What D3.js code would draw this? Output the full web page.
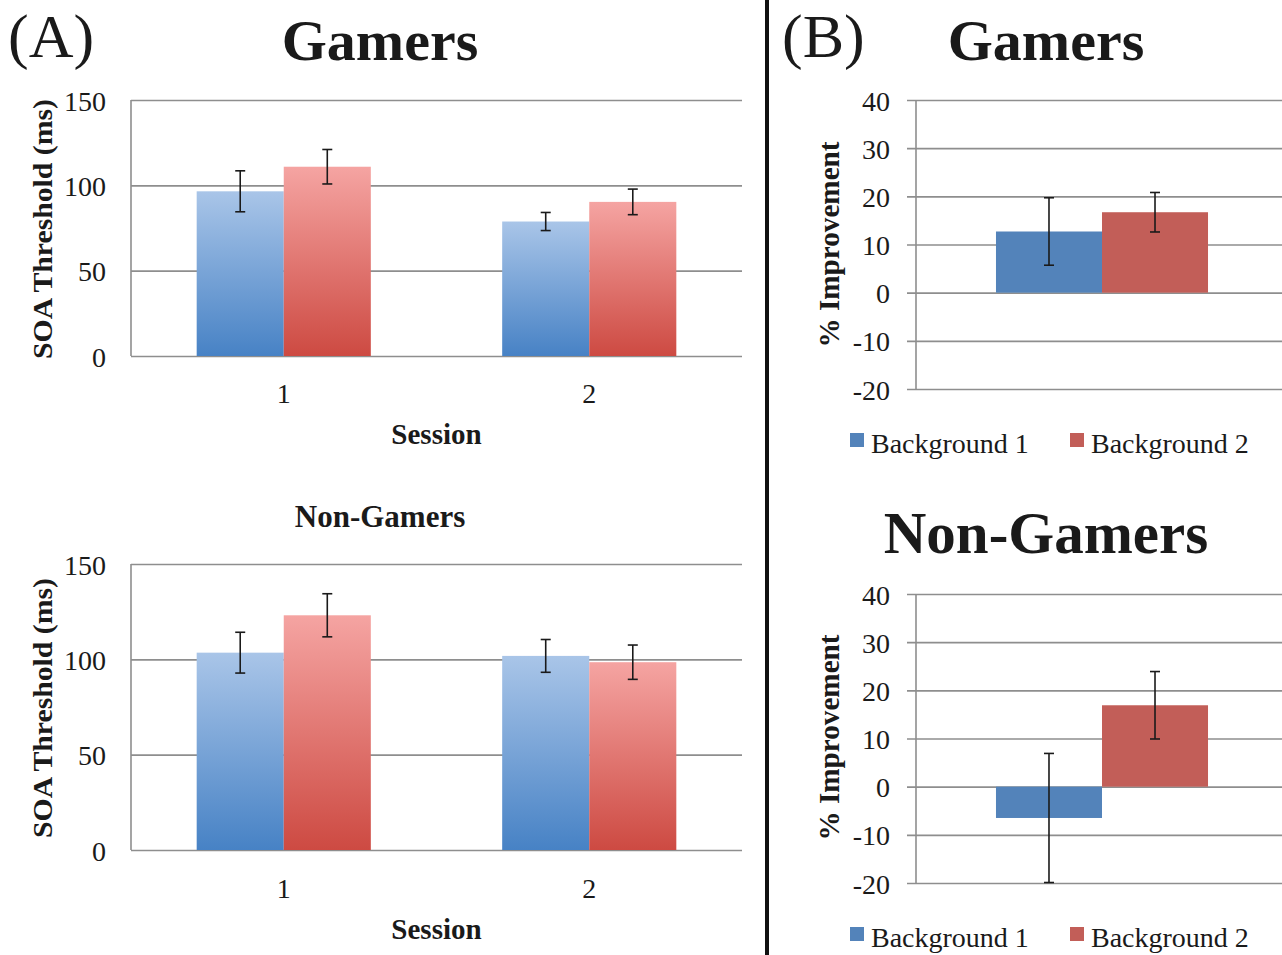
<!DOCTYPE html>
<html>
<head>
<meta charset="utf-8">
<script src="https://cdn.jsdelivr.net/npm/d3@7"></script>
<style>
  body { margin: 0; background: #fff; }
  svg { display: block; }
  text { font-family: "Liberation Serif", "Times New Roman", serif; fill: #1a1a1a; }
</style>
</head>
<body>
<svg width="1282" height="955"></svg>
<script>
// ---------- data ----------
var sessions = ["1", "2"];
var backgrounds = ["Background 1", "Background 2"];

// SOA threshold (ms), panel A
var gamersBg1 = [96.5, 78.8];
var gamersBg1Err = [12.0, 5.3];
var gamersBg2 = [110.9, 90.3];
var gamersBg2Err = [10.1, 7.5];

var nonGamersBg1 = [103.5, 101.8];
var nonGamersBg1Err = [10.7, 8.6];
var nonGamersBg2 = [123.1, 98.5];
var nonGamersBg2Err = [11.3, 9.0];

// % improvement, panel B (one group)
var gamersImprove = [12.7, 16.7];
var gamersImproveErr = [7.0, 4.1];
var nonGamersImprove = [-6.5, 16.9];
var nonGamersImproveErr = [13.4, 7.0];

var soaTicks = [0, 50, 100, 150];
var improveTicks = [-20, -10, 0, 10, 20, 30, 40];

var svg = d3.select("svg");

// gradients for panel A bars
var defs = svg.append("defs");
function gradient(id, top, bottom) {
    var g = defs.append("linearGradient").attr("id", id)
        .attr("x1", 0).attr("y1", 0).attr("x2", 0).attr("y2", 1);
    g.append("stop").attr("offset", "0%").attr("stop-color", top);
    g.append("stop").attr("offset", "100%").attr("stop-color", bottom);
}
gradient("gBlue", "#a9c5e8", "#4782c5");
gradient("gRed", "#f5a4a2", "#cd4a42");

var solid = { "Background 1": "#5383ba", "Background 2": "#c25e58" };
var grad = { "Background 1": "url(#gBlue)", "Background 2": "url(#gRed)" };

// build rows for one chart
function rows(cats, v1, e1, v2, e2) {
    return cats.map(function (c, i) {
        return {
            cat: c,
            bars: [
                { key: backgrounds[0], value: v1[i], err: e1[i] },
                { key: backgrounds[1], value: v2[i], err: e2[i] }
            ]
        };
    });
}

function drawPanel(p) {
    var g = svg.append("g");
    var x = d3.scaleBand().domain(p.data.map(function (d) { return d.cat; }))
        .range([p.left, p.right]).paddingInner(0.43).paddingOuter(0.215);
    var xSub = d3.scaleBand().domain(backgrounds).range([0, x.bandwidth()]);
    var y = d3.scaleLinear().domain(p.domain).range([p.bottom, p.top]);

    // grid + tick labels (plain hyphen for negatives, as in the original)
    var grid = g.append("g")
        .attr("transform", "translate(" + (p.left - p.tickOut) + ",0)")
        .call(d3.axisLeft(y).tickValues(p.ticks)
            .tickSize(-(p.right - p.left + p.tickOut))
            .tickPadding(p.tickPad)
            .tickFormat(function (d) { return String(d); }));
    grid.select(".domain").remove();
    grid.selectAll(".tick line").attr("stroke", "#8e8e8e").attr("stroke-width", 1.6);
    grid.selectAll(".tick text")
        .attr("font-size", p.tickFont)
        .attr("dy", "0.36em")
        .style("font-family", "'Liberation Serif', 'Times New Roman', serif")
        .attr("fill", "#1a1a1a");

    // vertical axis line
    g.append("line")
        .attr("x1", p.left).attr("x2", p.left)
        .attr("y1", y(p.domain[1])).attr("y2", y(p.domain[0]))
        .attr("stroke", "#8e8e8e").attr("stroke-width", 1.6);

    var grp = g.selectAll(".grp").data(p.data).enter().append("g")
        .attr("transform", function (d) { return "translate(" + x(d.cat) + ",0)"; });

    grp.selectAll("rect").data(function (d) { return d.bars; }).enter().append("rect")
        .attr("x", function (d) { return xSub(d.key); })
        .attr("width", xSub.bandwidth())
        .attr("y", function (d) { return y(Math.max(0, d.value)); })
        .attr("height", function (d) { return Math.abs(y(d.value) - y(0)); })
        .attr("fill", function (d) { return p.gradient ? grad[d.key] : solid[d.key]; });

    // error bars
    var eb = grp.selectAll(".err").data(function (d) { return d.bars; }).enter().append("g")
        .attr("stroke", "#1a1a1a").attr("stroke-width", 1.6);
    function cx(d) { return xSub(d.key) + xSub.bandwidth() / 2; }
    eb.append("line")
        .attr("x1", cx).attr("x2", cx)
        .attr("y1", function (d) { return y(d.value + d.err); })
        .attr("y2", function (d) { return y(d.value - d.err); });
    [1, -1].forEach(function (s) {
        eb.append("line")
            .attr("x1", function (d) { return cx(d) - 5; })
            .attr("x2", function (d) { return cx(d) + 5; })
            .attr("y1", function (d) { return y(d.value + s * d.err); })
            .attr("y2", function (d) { return y(d.value + s * d.err); });
    });

    // category labels
    if (p.catLabels) {
        g.selectAll(".cat").data(p.data).enter().append("text")
            .attr("x", function (d) { return x(d.cat) + x.bandwidth() / 2; })
            .attr("y", p.catY)
            .attr("text-anchor", "middle")
            .attr("font-size", 28)
            .text(function (d) { return d.cat; });
        g.append("text")
            .attr("x", (p.left + p.right) / 2).attr("y", p.catY + 41)
            .attr("text-anchor", "middle")
            .attr("font-size", 29).attr("font-weight", "bold")
            .text("Session");
    }

    // y title
    g.append("text")
        .attr("transform", "translate(" + p.yTitleX + "," + ((p.top + p.bottom) / 2 + p.yTitleShift) + ") rotate(-90)")
        .attr("text-anchor", "middle")
        .attr("font-size", p.yTitleFont).attr("font-weight", "bold")
        .attr("textLength", p.yTitleLen).attr("lengthAdjust", "spacingAndGlyphs")
        .text(p.yTitle);

    // legend
    if (p.legendY) {
        var lg = g.selectAll(".lg").data(backgrounds).enter().append("g")
            .attr("transform", function (d, i) { return "translate(" + (850 + i * 220) + "," + p.legendY + ")"; });
        lg.append("rect").attr("width", 14).attr("height", 14)
            .attr("fill", function (d) { return solid[d]; });
        lg.append("text").attr("x", 21).attr("y", 20)
            .attr("font-size", 28).text(function (d) { return d; });
    }
}

drawPanel({
    data: rows(sessions, gamersBg1, gamersBg1Err, gamersBg2, gamersBg2Err),
    left: 131, right: 742, top: 100, bottom: 356,
    domain: [0, 150], ticks: soaTicks, tickOut: 0, tickPad: 25, tickFont: 28,
    gradient: true, catLabels: true, catY: 403,
    yTitle: "SOA Threshold (ms)", yTitleX: 52, yTitleShift: 1, yTitleFont: 28, yTitleLen: 260
});
drawPanel({
    data: rows(sessions, nonGamersBg1, nonGamersBg1Err, nonGamersBg2, nonGamersBg2Err),
    left: 131, right: 742, top: 564, bottom: 850,
    domain: [0, 150], ticks: soaTicks, tickOut: 0, tickPad: 25, tickFont: 28,
    gradient: true, catLabels: true, catY: 898,
    yTitle: "SOA Threshold (ms)", yTitleX: 52, yTitleShift: 1, yTitleFont: 28, yTitleLen: 260
});
drawPanel({
    data: rows([""], [gamersImprove[0]], [gamersImproveErr[0]], [gamersImprove[1]], [gamersImproveErr[1]]),
    left: 916, right: 1288, top: 100, bottom: 389,
    domain: [-20, 40], ticks: improveTicks, tickOut: 9, tickPad: 17, tickFont: 28,
    gradient: false, catLabels: false,
    yTitle: "% Improvement", yTitleX: 839, yTitleShift: 0, yTitleFont: 29, yTitleLen: 206,
    legendY: 433
});
drawPanel({
    data: rows([""], [nonGamersImprove[0]], [nonGamersImproveErr[0]], [nonGamersImprove[1]], [nonGamersImproveErr[1]]),
    left: 916, right: 1288, top: 594, bottom: 883,
    domain: [-20, 40], ticks: improveTicks, tickOut: 9, tickPad: 17, tickFont: 28,
    gradient: false, catLabels: false,
    yTitle: "% Improvement", yTitleX: 839, yTitleShift: -1, yTitleFont: 29, yTitleLen: 206,
    legendY: 927
});

// divider
svg.append("line").attr("x1", 767).attr("x2", 767).attr("y1", 0).attr("y2", 955)
    .attr("stroke", "#111").attr("stroke-width", 4);

// titles
function label(txt, x, y, size, bold, anchor) {
    svg.append("text").attr("x", x).attr("y", y)
        .attr("font-size", size)
        .attr("font-weight", bold ? "bold" : "normal")
        .attr("text-anchor", anchor || "middle")
        .text(txt);
}
label("(A)", 8, 57, 62, false, "start");
label("(B)", 782, 57, 62, false, "start");
label("Gamers", 380, 60, 58, true);
label("Gamers", 1046, 60, 58, true);
label("Non-Gamers", 380, 527, 31, true);
label("Non-Gamers", 1046, 553, 59, true);
</script>
</body>
</html>
